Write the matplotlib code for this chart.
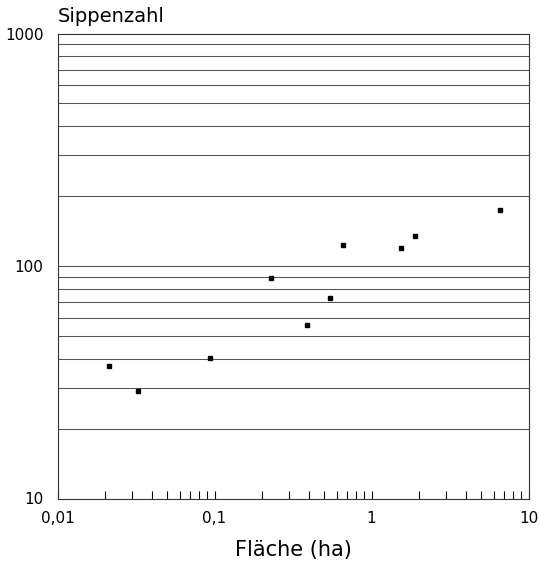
import matplotlib
matplotlib.use("Agg")
import matplotlib.pyplot as plt
from matplotlib.ticker import FixedLocator, NullFormatter, NullLocator

# Data
flaeche_ha = [0.0214, 0.0325, 0.094, 0.229, 0.390, 0.545, 0.660, 1.535, 1.89, 6.58]
sippenzahl = [37.2, 29.0, 40.3, 88.8, 56.0, 72.9, 122.7, 119.0, 135.0, 174.0]

x_ticks = [0.01, 0.1, 1, 10]
x_ticklabels = ["0,01", "0,1", "1", "10"]
y_ticks = [10, 100, 1000]
y_ticklabels = ["10", "100", "1000"]
grid_levels = [20, 30, 40, 50, 60, 70, 80, 90, 100,
               200, 300, 400, 500, 600, 700, 800, 900]

plt.rcParams['font.family'] = ['DejaVu Sans']

fig = plt.figure(figsize=(5.39, 5.66), dpi=100)
ax = fig.add_axes([57.5 / 539, 1 - 498.5 / 566, 471 / 539, 465 / 566])

ax.set_xscale('log')
ax.set_yscale('log')
ax.set_xlim(0.01, 10)
ax.set_ylim(10, 1000)

for g in grid_levels:
    ax.axhline(g, color='#555555', lw=0.75, zorder=1)

ax.plot(flaeche_ha, sippenzahl, linestyle='none', marker='s', markersize=3.0,
        color='black', zorder=3)

ax.xaxis.set_major_locator(FixedLocator(x_ticks))
ax.set_xticklabels(x_ticklabels)
ax.yaxis.set_major_locator(FixedLocator(y_ticks))
ax.set_yticklabels(y_ticklabels)
ax.yaxis.set_minor_locator(NullLocator())
ax.yaxis.set_minor_formatter(NullFormatter())
ax.xaxis.set_minor_formatter(NullFormatter())

ax.tick_params(axis='x', which='both', direction='in', length=6, width=0.8,
               labelsize=11, pad=9, top=False)
ax.tick_params(axis='y', which='both', direction='in', length=0,
               labelsize=11, pad=10)

for s in ax.spines.values():
    s.set_linewidth(0.8)
    s.set_color('#333333')

ax.set_xlabel("Fläche (ha)", fontsize=15, labelpad=10)
fig.text(57.5 / 539, 1 - 22 / 566, "Sippenzahl", fontsize=14,
         ha='left', va='baseline')

fig.savefig("out.png", dpi=100)
